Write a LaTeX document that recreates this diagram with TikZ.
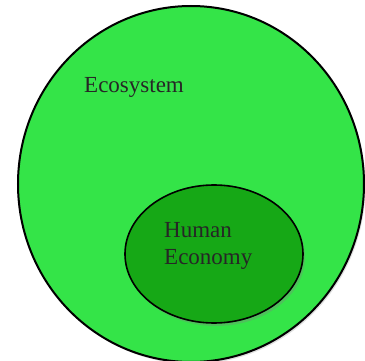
\documentclass[tikz,border=0pt]{standalone}
\usepackage{fontspec}
\setmainfont{Liberation Serif}
\usetikzlibrary{shadows}
\definecolor{ecogreen}{RGB}{52,228,72}
\definecolor{humgreen}{RGB}{22,168,22}

\begin{document}
\begin{tikzpicture}[x=1pt,y=-1pt]
\tikzstyle{every node}+=[inner sep=0pt]
\tikzstyle{label}=[font=\fontsize{23}{27}\selectfont, text=black!85, align=left]
\useasboundingbox (0,0) rectangle (365,361);
\clip (0,0) rectangle (365,361);
% ecosystem
\draw [black, line width=2pt, fill=ecogreen,
  drop shadow={opacity=0.25, shadow xshift=1.5pt, shadow yshift=-2pt}]
  (191,184) ellipse (173 and 178);
\node [label, anchor=base west] (ecosystem) at (84,93) {Ecosystem};
% human economy
\draw [black, line width=1.6pt, fill=humgreen,
  drop shadow={opacity=0.35, shadow xshift=2pt, shadow yshift=-3pt}]
  (214,254) ellipse (89 and 69);
\node [label, anchor=base west] (economy) at (164,265) {Human\\Economy};
\end{tikzpicture}
\end{document}
